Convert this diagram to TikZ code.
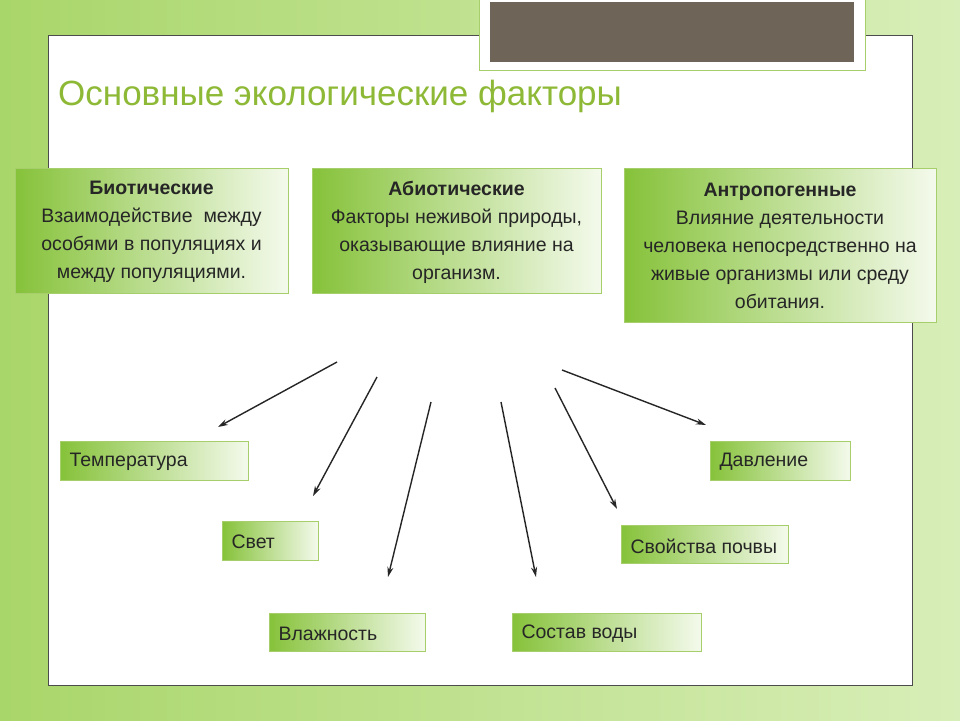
\documentclass[tikz,border=0pt]{standalone}
\usepackage{fontspec}
\setmainfont{Liberation Sans}
\usetikzlibrary{arrows.meta}
\definecolor{bgg}{HTML}{A9D66A}
\definecolor{bgl}{HTML}{D8EEB8}
\definecolor{ttl}{HTML}{8DB936}
\definecolor{bxd}{HTML}{86C23A}
\definecolor{bxl}{HTML}{F4FAEC}
\definecolor{bxe}{HTML}{A6CE6A}
\definecolor{topb}{HTML}{6E6558}
\tikzset{
  gbox/.style={draw=bxe,line width=0.8pt,left color=bxd,right color=bxl,inner sep=0pt},
  lab/.style={font=\fontsize{19.5}{22}\selectfont,anchor=west,text=black!85},
  big/.style={font=\fontsize{19.5}{28}\selectfont,align=center,text=black!85},
  arr/.style={-{Stealth[length=10pt,width=6pt]},line width=1.4pt,black!85}
}
\begin{document}
\begin{tikzpicture}[x=1pt,y=-1pt]
\useasboundingbox (0,0) rectangle (960,720);
\fill[left color=bgg,right color=bgl] (0,0) rectangle (960,720);
\node[draw=black!70,fill=white,minimum width=864pt,minimum height=650pt,anchor=north west,inner sep=0pt] (panel) at (48,35) {};
\node[draw=bxe,line width=1pt,fill=white,minimum width=386pt,minimum height=72pt,anchor=north west,inner sep=0pt] (topo) at (479,-2) {};
\node[fill=topb,minimum width=364pt,minimum height=60pt,anchor=north west,inner sep=0pt] (topi) at (490,2) {};
\node[anchor=west,text=ttl,font=\fontsize{35}{40}\selectfont,inner sep=0pt] (title) at (58,96) {Основные экологические факторы};
\node[gbox,minimum width=273pt,minimum height=125pt,anchor=north west] (b1) at (15,168) {};
\node[big] at (151.5,232) {\textbf{Биотические}\\Взаимодействие\ \ между\\особями в популяциях и\\между популяциями.};
\node[gbox,minimum width=289pt,minimum height=125pt,anchor=north west] (b2) at (312,168) {};
\node[big] at (456.5,232) {\textbf{Абиотические}\\Факторы неживой природы,\\оказывающие влияние на\\организм.};
\node[gbox,minimum width=312pt,minimum height=154pt,anchor=north west] (b3) at (624,168) {};
\node[big] at (780,246) {\textbf{Антропогенные}\\Влияние деятельности\\человека непосредственно на\\живые организмы или среду\\обитания.};
\node[gbox,minimum width=188pt,minimum height=39pt,anchor=north west] (t) at (60,441) {};
\node[lab] at (66,462) {Температура};
\node[gbox,minimum width=96pt,minimum height=39pt,anchor=north west] (s) at (222,521) {};
\node[lab] at (228,542) {Свет};
\node[gbox,minimum width=156pt,minimum height=38pt,anchor=north west] (v) at (269,613) {};
\node[lab] at (275,634) {Влажность};
\node[gbox,minimum width=189pt,minimum height=38pt,anchor=north west] (w) at (512,613) {};
\node[lab] at (518,634) {Состав воды};
\node[gbox,minimum width=140pt,minimum height=39pt,anchor=north west] (d) at (710,441) {};
\node[lab] at (716,462) {Давление};
\node[gbox,minimum width=167pt,minimum height=38pt,anchor=north west] (p) at (621,525) {};
\node[lab] at (627,546) {Свойства почвы};
\coordinate (a1) at (337,362); \coordinate (e1) at (218,427);
\coordinate (a2) at (377,377); \coordinate (e2) at (313,496);
\coordinate (a3) at (431,402); \coordinate (e3) at (388,577);
\coordinate (a4) at (501,402); \coordinate (e4) at (536,577);
\coordinate (a5) at (555,388); \coordinate (e5) at (617,509);
\coordinate (a6) at (562,370); \coordinate (e6) at (706,425);
\foreach \i in {1,...,6}{\draw[arr] (a\i) -- (e\i);}
\end{tikzpicture}
\end{document}
